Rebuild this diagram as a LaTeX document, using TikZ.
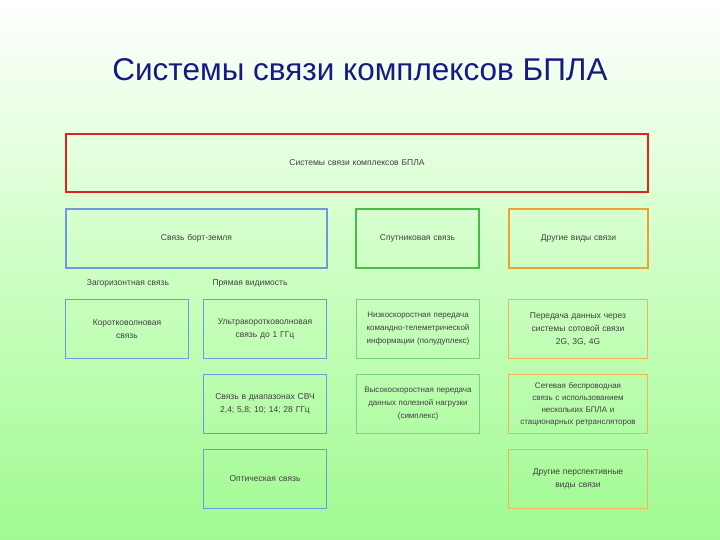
\documentclass[tikz,border=0pt]{standalone}
\usepackage{fontspec}
\setmainfont{Liberation Sans}
\begin{document}
\begin{tikzpicture}[x=1pt,y=-1pt,
  bx/.style={draw, minimum width=#1, text width=#1-4pt, align=center, font=\fontsize{8.5}{13}\selectfont, text=black!75},
  big/.style={line width=1.8pt},
  sub/.style={line width=0.8pt},
  lbl/.style={font=\fontsize{8.5}{10}\selectfont, text=black!75}]
\definecolor{bred}{HTML}{E02222}
\definecolor{bblue}{HTML}{6E98E0}
\definecolor{bgreen}{HTML}{44BE44}
\definecolor{borange}{HTML}{F0A030}
\shade[top color=white, bottom color={rgb,255:red,160;green,250;blue,145}, middle color={rgb,255:red,205;green,255;blue,195}] (0,0) rectangle (720,540);
\useasboundingbox (0,0) rectangle (720,540);
\node[font=\fontsize{31.5}{36}\selectfont, text={rgb,255:red,25;green,25;blue,130}] (title) at (360,70) {Системы связи комплексов БПЛА};
\node[bx=580pt, big, draw=bred, minimum height=58pt] (top) at (357,163) {Системы связи комплексов БПЛА};
\node[bx=259pt, big, draw=bblue, minimum height=59pt] (b1) at (196.5,238.5) {Связь борт-земля};
\node[bx=121pt, big, draw=bgreen, minimum height=59pt] (b2) at (417.5,238.5) {Спутниковая связь};
\node[bx=137pt, big, draw=borange, minimum height=59pt] (b3) at (578.5,238.5) {Другие виды связи};
\node[lbl] (l1) at (128,283) {Загоризонтная связь};
\node[lbl] (l2) at (250,283) {Прямая видимость};
\node[bx=121pt, sub, draw=bblue, minimum height=59pt] (a1) at (127,329) {Коротковолновая\\связь};
\node[bx=121pt, sub, draw=bblue, minimum height=59pt] (a2) at (265,329) {Ультракоротковолновая\\связь до 1 ГГц};
\node[bx=121pt, sub, draw=bblue, minimum height=59pt] (a3) at (265,404) {Связь в диапазонах СВЧ\\2,4; 5,8; 10; 14; 28 ГГц};
\node[bx=121pt, sub, draw=bblue, minimum height=59pt] (a4) at (265,479) {Оптическая связь};
\node[bx=121pt, sub, draw=bgreen!70, minimum height=59pt, font=\fontsize{8}{13}\selectfont] (g1) at (418,329) {Низкоскоростная передача\\командно-телеметрической\\информации (полудуплекс)};
\node[bx=121pt, sub, draw=bgreen!70, minimum height=59pt, font=\fontsize{8}{13}\selectfont] (g2) at (418,404) {Высокоскоростная передача\\данных полезной нагрузки\\(симплекс)};
\node[bx=137pt, sub, draw=borange!80, minimum height=59pt] (o1) at (578,329) {Передача данных через\\системы сотовой связи\\2G, 3G, 4G};
\node[bx=137pt, sub, draw=borange!80, minimum height=59pt, font=\fontsize{8}{12}\selectfont] (o2) at (578,404) {Сетевая беспроводная\\связь с использованием\\нескольких БПЛА и\\стационарных ретрансляторов};
\node[bx=137pt, sub, draw=borange!80, minimum height=59pt] (o3) at (578,479) {Другие перспективные\\виды связи};
\end{tikzpicture}
\end{document}
